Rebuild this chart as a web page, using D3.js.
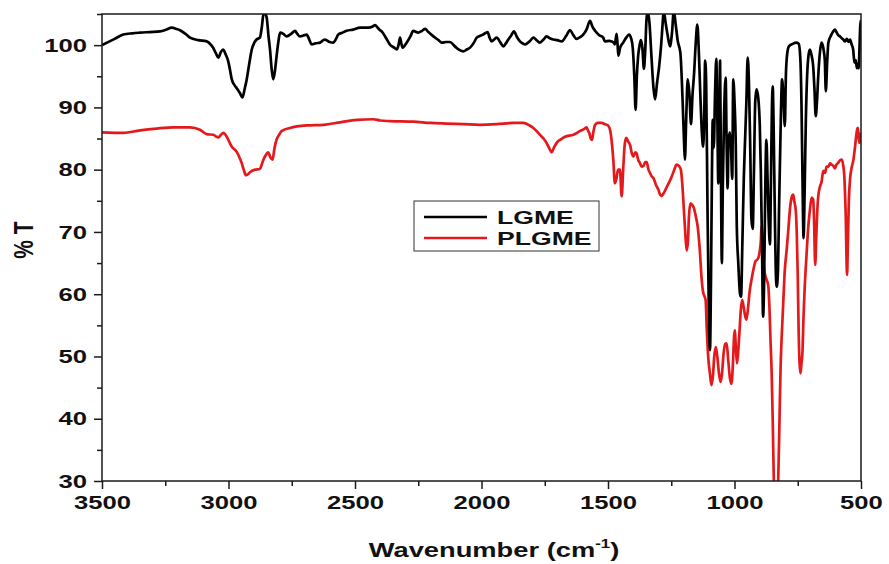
<!DOCTYPE html>
<html>
<head>
<meta charset="utf-8">
<script src="https://cdn.jsdelivr.net/npm/d3@7"></script>
<style>
  html, body { margin: 0; padding: 0; background: #fff; }
  svg { display: block; font-family: "Liberation Sans", Arial, sans-serif; }
</style>
</head>
<body>
<svg id="chart" width="889" height="564"></svg>
<script>
// ---------------- data ----------------
const xTickValues = [3500, 3000, 2500, 2000, 1500, 1000, 500];
const xMinorTicks = [3250, 2750, 2250, 1750, 1250, 750];
const yTickValues = [30, 40, 50, 60, 70, 80, 90, 100];
const yMinorTicks = [35, 45, 55, 65, 75, 85, 95, 105];
const seriesNames = ["LGME", "PLGME"];
const seriesColors = ["#000000", "#e3191c"];

// LGME: [wavenumber, %T]
const lgme = [
[3500,100],[3495,100.1],[3450,101],[3416,101.7],[3380,101.9],[3350,102],[3310,102.1],[3271,102.2],[3245,102.5],[3225,102.8],[3205,102.6],[3192,102.4],[3170,101.8],[3152,101.2],[3120,100.8],[3086,100.6],[3070,100.1],[3061,99.6],[3050,98.7],[3040,98.0],[3030,98.9],[3021,99.3],[3012,98.6],[3001,97.4],[2994,96],[2987,94.5],[2975,93.5],[2968,93.1],[2955,92.3],[2945,91.6],[2936,93],[2928,94.5],[2918,97],[2908,99.3],[2898,100.4],[2889,100.9],[2876,101.2],[2868,103],[2862,104.9],[2855,105],[2849,104.4],[2842,101.5],[2836,99.3],[2829,96],[2823,94.5],[2816,96],[2810,98.2],[2803,100.5],[2796,102],[2783,101.8],[2770,101.4],[2750,101.9],[2737,102.3],[2728,101.8],[2718,101.4],[2700,101.6],[2691,101.7],[2680,100.8],[2671,100.1],[2655,100.3],[2638,100.4],[2625,100.8],[2619,100.9],[2600,100.5],[2586,100.4],[2575,101],[2566,101.7],[2550,102],[2533,102.3],[2507,102.5],[2480,102.8],[2447,102.8],[2430,103],[2421,103.2],[2410,102.8],[2401,102.4],[2394,102.2],[2381,101.4],[2362,100.1],[2345,99.6],[2335,99.3],[2328,100],[2322,101.2],[2317,100.3],[2312,99.6],[2296,100.4],[2280,101.5],[2270,102.3],[2250,102],[2235,102.3],[2223,102.6],[2210,102.1],[2190,101.4],[2170,100.8],[2157,100.4],[2140,100.5],[2125,100.5],[2105,99.8],[2091,99.3],[2072,99],[2058,99.3],[2045,99.6],[2030,100.4],[2019,101.2],[2005,101.5],[1993,101.7],[1976,102.1],[1968,101.2],[1960,100.6],[1950,100.9],[1940,101.2],[1925,100.4],[1914,99.8],[1905,100.2],[1894,100.9],[1882,101.6],[1872,102.2],[1860,101.3],[1848,100.6],[1838,100.3],[1828,100.1],[1810,100.6],[1795,101.2],[1780,100.7],[1769,100.4],[1755,100.9],[1743,101.4],[1730,101.1],[1716,100.9],[1700,100.8],[1683,100.6],[1665,101.5],[1650,102.4],[1637,101.6],[1624,101],[1610,101.3],[1598,101.7],[1585,102.5],[1571,103.9],[1562,103],[1551,102.3],[1535,101.6],[1519,101.2],
[1512,100.6],[1495,100.7],[1486,100.6],[1478,100.4],[1473,100.1],[1466,101.8],[1462,100],[1459,98.3],[1452,99.6],[1440,100.4],[1428,101.2],[1417,101.7],[1408,101],[1402,99.5],[1396,95],[1391,89.6],[1386,95],[1381,98.2],[1375,100],[1370,100.8],[1364,99.5],[1358,96.2],[1353,99],[1348,104],[1343,105.5],[1336,103.5],[1328,98],[1320,93],[1314,91.3],[1306,94],[1298,96.5],[1290,100],[1284,103.5],[1280,105.5],[1272,103.5],[1264,101.5],[1255,99.8],[1247,102],[1240,105.5],[1233,103.5],[1224,100.6],[1214,98.8],[1205,91],[1199,84],[1196,81.6],[1191,88],[1185,94.5],[1178,92],[1172,87.3],[1166,92],[1160,95.3],[1153,100.5],[1147,103.3],[1141,99],[1135,92],[1129,86],[1124,83.7],[1120,88],[1116,97.5],[1112,94],[1107,75],[1101,56],[1097,51],[1093,62],[1089,80],[1086,88],[1082,83.5],[1077,92],[1072,97.8],[1068,89],[1064,77.8],[1060,88],[1057,97.5],[1054,82],[1050,65],[1046,78],[1041,89],[1035,94.8],[1031,84],[1027,77],[1024,84.3],[1019,86],[1014,84],[1009,78.5],[1005,94.5],[1000,91],[995,84],[991,71],[985,65],[978,60],[974,59.6],[969,68],[963,79],[958,85],[953,91],[948,98],[943,94],[938,84],[933,72],[928,70.5],[923,80],[918,91],[913,92.9],[906,91.5],[900,87],[896,80],[891,67],[887,56.4],[883,62],[879,75],[874,84.8],[869,78],[865,72],[860,68],[856,78],[852,90],[849,93.4],[845,86],[841,74],[837,64],[833,61.2],[828,64],[824,73.6],[818,86],[812,94.5],[806,91],[801,87],[797,95],[792,98.5],[785,99.8],[770,100.2],[754,100.4],[746,100.2],[740,98],[735,90],[731,78],[727,69],[723,76],[718,88],[713,95],[707,98.5],[702,99.3],[695,98.3],[689,96.6],[684,93],[679,88.6],[674,91],[669,95],[662,99],[656,100.4],[648,99.3],[643,97.5],[639,92.6],[634,97],[629,100.4],[618,101.6],[610,102.2],[603,102.5],[597,102.1],[590,101.6],[583,101.4],[576,101.1],[570,100.9],[563,100.6],[556,101],[549,100.5],[543,100.9],[537,100.1],[531,99.3],[526,97.2],[521,97.6],[516,96.3],[512,97],[509,96.3],[506,99.5],[503,103],[500,104]
];

// PLGME: [wavenumber, %T]
const plgme = [
[3500,86],[3416,85.9],[3350,86.3],[3284,86.6],[3218,86.8],[3152,86.8],[3113,86.4],[3086,85.7],[3060,85.6],[3048,85.3],[3040,85.2],[3030,85.6],[3021,85.9],[3007,85.3],[2995,84.3],[2987,83.7],[2968,82.9],[2955,81.8],[2948,81.1],[2940,80],[2931,79.1],[2922,79.3],[2915,79.6],[2895,80],[2876,80.1],[2868,80.9],[2862,81.6],[2850,82.5],[2843,82.8],[2835,82],[2826,81.6],[2818,83.5],[2810,84.8],[2800,85.6],[2790,86.2],[2757,86.7],[2691,87.1],[2625,87.2],[2559,87.6],[2493,88],[2428,88.1],[2401,87.9],[2362,87.8],[2270,87.7],[2200,87.5],[2138,87.4],[2070,87.3],[2006,87.2],[1940,87.3],[1874,87.5],[1835,87.5],[1810,87.1],[1795,86.7],[1780,86.1],[1769,85.6],[1755,85],[1743,84.3],[1733,83.5],[1723,82.8],[1713,83.6],[1703,84.3],[1685,84.9],[1670,85.3],[1637,85.6],[1611,86.2],[1592,86.6],[1585,86.8],[1578,86.2],[1574,85.9],[1568,85],[1563,84.8],[1558,86],[1551,87.2],[1540,87.5],[1525,87.5],
[1512,87.3],[1500,87.1],[1492,86.4],[1484,84],[1479,81.6],[1473,77.8],[1467,78.5],[1460,80],[1453,80],[1446,75.7],[1440,80],[1434,84],[1428,85.1],[1420,84.5],[1413,84],[1405,82.5],[1400,82.1],[1392,82.8],[1387,82.6],[1380,81.5],[1374,81.1],[1367,80.5],[1360,80.6],[1353,81.2],[1347,81.2],[1340,80],[1334,79.5],[1327,78.9],[1321,78.7],[1310,77.5],[1301,76.8],[1294,76],[1288,75.8],[1280,76.2],[1268,77.2],[1258,78],[1248,78.9],[1238,80],[1229,80.8],[1220,80.6],[1212,80],[1206,77.5],[1200,73.5],[1194,69.5],[1189,67],[1184,68.5],[1180,72.5],[1174,74.6],[1168,74.4],[1160,73.8],[1153,72.5],[1146,71],[1137,67],[1130,62.5],[1124,60.3],[1118,59.6],[1114,59],[1110,54.8],[1104,50],[1097,47.2],[1091,45.4],[1085,47],[1080,50],[1074,51.5],[1068,50],[1062,47.5],[1055,45.9],[1050,47],[1043,50.5],[1037,52],[1031,52.1],[1025,49.5],[1018,46.5],[1012,45.6],[1006,49],[1002,53],[999,54.2],[994,51],[990,48.9],[985,51],[980,54.2],[975,57.5],[970,59.1],[964,58],[958,56.5],[953,55.9],[946,58],[940,60.5],[932,62.5],[925,64],[919,65.1],[912,65.5],[906,65.8],[900,67],[896,68.5],[893,71],[889,69],[884,64.5],[880,63.3],[873,62.3],[867,61.5],[862,58],[858,53],[853,47.2],[849,40],[845,31],[840,25],[832,25],[827,30.5],[822,40],[818,48],[814,52.6],[808,58],[801,64],[794,67],[786,71],[780,74],[772,75.8],[768,76],[764,75],[758,73.5],[754,70],[750,63],[747,55.3],[743,49],[739,47.3],[735,49],[731,51],[728,55.3],[722,61.5],[715,66.5],[709,70.5],[702,73.5],[695,75.5],[689,75.2],[685,71],[681,64.7],[677,69],[672,74],[669,75.7],[662,77.3],[656,78],[649,79.8],[642,79.5],[636,80.5],[629,80.5],[622,81],[616,80.8],[609,80.6],[603,80.2],[597,80.8],[590,81.1],[583,81.5],[576,81.6],[570,80.6],[566,79],[563,76],[560,72],[557,65],[555,63.1],[552,68],[548,75],[543,78.6],[537,80.3],[530,81.6],[524,83.5],[519,85.4],[515,86.5],[512,86.7],[509,85],[506,84.3],[503,85.5],[500,85.9]
];

// ---------------- layout ----------------
const svg = d3.select("#chart");
const plot = { left: 102, right: 861, top: 14, bottom: 481 };
const SX = 1.35; // horizontal text stretch of the original figure

const x = d3.scaleLinear().domain([3500, 500]).range([plot.left, plot.right]);
const y = d3.scaleLinear().domain([30, 105]).range([plot.bottom, plot.top]);

svg.append("defs").append("clipPath").attr("id", "clip")
  .append("rect")
  .attr("x", plot.left).attr("y", plot.top)
  .attr("width", plot.right - plot.left).attr("height", plot.bottom - plot.top);

// lines
const line = d3.line()
  .x(d => x(d[0]))
  .y(d => y(d[1]))
  .curve(d3.curveMonotoneX);

const lines = svg.append("g").attr("clip-path", "url(#clip)");
lines.append("path").datum(plgme)
  .attr("fill", "none").attr("stroke", seriesColors[1])
  .attr("stroke-width", 2.7).attr("stroke-linejoin", "round")
  .attr("d", line);
lines.append("path").datum(lgme)
  .attr("fill", "none").attr("stroke", seriesColors[0])
  .attr("stroke-width", 2.7).attr("stroke-linejoin", "round")
  .attr("d", line);

// frame
svg.append("rect")
  .attr("x", plot.left).attr("y", plot.top)
  .attr("width", plot.right - plot.left).attr("height", plot.bottom - plot.top)
  .attr("fill", "none").attr("stroke", "#1a1a1a").attr("stroke-width", 1.5);

// axes
const xAxisG = svg.append("g").attr("transform", `translate(0,${plot.bottom})`)
  .call(d3.axisBottom(x).tickValues(xTickValues).tickSize(8).tickPadding(7).tickFormat(d3.format("d")));
const xMinorG = svg.append("g").attr("transform", `translate(0,${plot.bottom})`)
  .call(d3.axisBottom(x).tickValues(xMinorTicks).tickSize(5).tickFormat(""));
const yAxisG = svg.append("g").attr("transform", `translate(${plot.left},0)`)
  .call(d3.axisLeft(y).tickValues(yTickValues).tickSize(8).tickPadding(6).tickFormat(d3.format("d")));
const yMinorG = svg.append("g").attr("transform", `translate(${plot.left},0)`)
  .call(d3.axisLeft(y).tickValues(yMinorTicks).tickSize(5).tickFormat(""));

[xAxisG, xMinorG, yAxisG, yMinorG].forEach(g => {
  g.select(".domain").remove();
  g.selectAll(".tick line").attr("stroke", "#1a1a1a").attr("stroke-width", 1.5);
});

xAxisG.selectAll("text")
  .attr("font-size", 19).attr("font-weight", "bold").attr("fill", "#111")
  .attr("transform", `scale(${SX},1)`);
yAxisG.selectAll("text")
  .attr("font-size", 19).attr("font-weight", "bold").attr("fill", "#111")
  .attr("x", -15 / SX)
  .attr("transform", `scale(${SX},1)`);

// axis titles
const xt = svg.append("text")
  .attr("transform", `translate(494,557) scale(1.3,1)`)
  .attr("text-anchor", "middle")
  .attr("font-size", 21).attr("font-weight", "bold").attr("fill", "#111");
xt.append("tspan").text("Wavenumber (cm");
xt.append("tspan").attr("font-size", 13).attr("dy", -9).text("-1");
xt.append("tspan").attr("dy", 9).text(")");

svg.append("text")
  .attr("transform", `translate(33,240) scale(1.3,1) rotate(-90)`)
  .attr("text-anchor", "middle")
  .attr("font-size", 21).attr("font-weight", "bold").attr("fill", "#111")
  .text("% T");

// legend
const lg = svg.append("g");
lg.append("rect")
  .attr("x", 414).attr("y", 201).attr("width", 185).attr("height", 50)
  .attr("fill", "#fff").attr("stroke", "#333").attr("stroke-width", 1);
seriesNames.forEach((name, i) => {
  const ly = 217 + i * 21;
  lg.append("line")
    .attr("x1", 424).attr("x2", 487).attr("y1", ly).attr("y2", ly)
    .attr("stroke", seriesColors[i]).attr("stroke-width", 2.5);
  lg.append("text")
    .attr("transform", `translate(497,${ly + 7}) scale(1.4,1)`)
    .attr("font-size", 19).attr("font-weight", "bold").attr("fill", "#111")
    .text(name);
});
</script>
</body>
</html>
